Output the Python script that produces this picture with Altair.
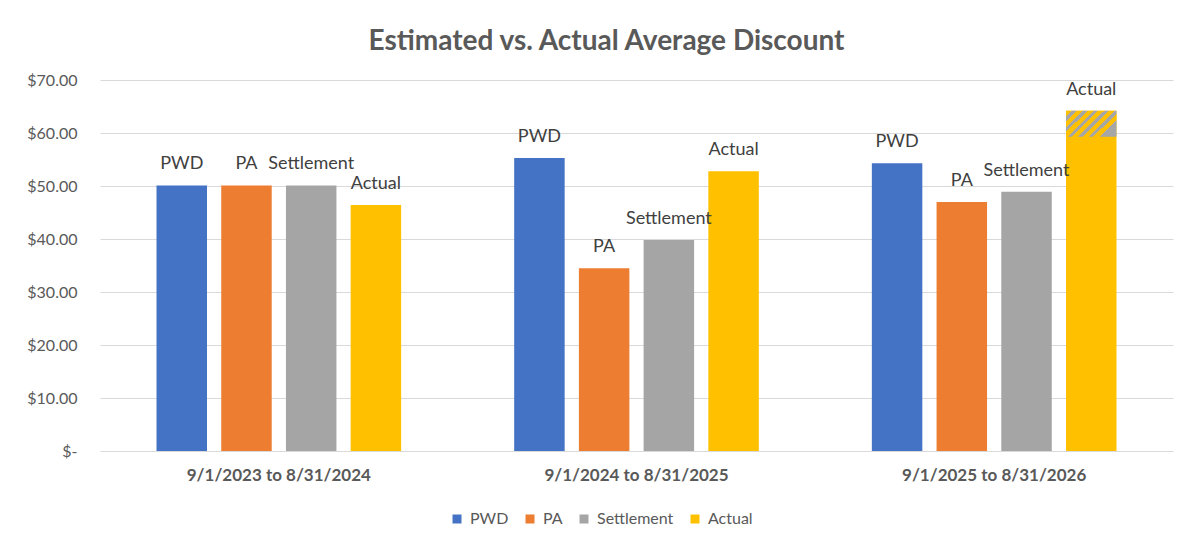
import altair as alt
import pandas as pd

groups = ["9/1/2023 to 8/31/2024", "9/1/2024 to 8/31/2025", "9/1/2025 to 8/31/2026"]
series = ["PWD", "PA", "Settlement", "Actual"]
colors = ["#4472C4", "#ED7D31", "#A5A5A5", "#FFC000"]

pwd = [50.1, 55.3, 54.3]
pa = [50.1, 34.5, 47.0]
settlement = [50.1, 39.8, 48.9]
actual = [46.4, 52.8, 64.2]

# hatched (estimated) top portion of the last Actual bar
hatch_group = [groups[2]]
hatch_series = ["Actual"]
hatch_start = [59.3]
hatch_end = [64.2]

rows = []
for name, vals in zip(series, [pwd, pa, settlement, actual]):
    for g, v in zip(groups, vals):
        rows.append({"group": g, "series": name, "value": v})
df = pd.DataFrame(rows)

df_h = pd.DataFrame({"group": hatch_group, "series": hatch_series,
                     "start": hatch_start, "end": hatch_end})

FONT = "Lato"
TXT = "#595959"

x_enc = alt.X("group:N", sort=groups,
              scale=alt.Scale(paddingInner=0.316, paddingOuter=0.158),
              axis=alt.Axis(title=None, labelAngle=0, domain=False, ticks=False, grid=False,
                            labelFontWeight="bold", labelFontSize=17, labelColor=TXT,
                            labelPadding=16, labelFont=FONT, labelLimit=0))
xo_enc = alt.XOffset("series:N", sort=series,
                     scale=alt.Scale(domain=series, paddingInner=0.22, paddingOuter=0))
y_scale = alt.Scale(domain=[0, 70], nice=False)

bars = alt.Chart(df).mark_bar().encode(
    x=x_enc,
    xOffset=xo_enc,
    y=alt.Y("value:Q", scale=y_scale,
            axis=alt.Axis(title=None, values=[0, 10, 20, 30, 40, 50, 60, 70],
                          domain=False, ticks=False, gridColor="#D9D9D9", gridWidth=1,
                          labelFontSize=16, labelColor=TXT, labelPadding=23, labelFont=FONT,
                          labelExpr="datum.value == 0 ? '$-\u00a0\u00a0\u00a0\u00a0\u00a0\u00a0\u00a0' : '$' + format(datum.value, '.2f')")),
    color=alt.Color("series:N", sort=series,
                    scale=alt.Scale(domain=series, range=colors),
                    legend=alt.Legend(title=None, orient="none", direction="horizontal",
                                      legendX=349, legendY=431, symbolType="square",
                                      symbolSize=81, symbolStrokeWidth=0,
                                      labelFontSize=16, labelColor=TXT, labelFont=FONT,
                                      columnPadding=13, symbolOffset=0, labelOffset=5)),
)

periods = 6
stops = []
for i in range(periods):
    a = i / periods
    b = (i + 0.58) / periods
    c = (i + 1) / periods
    stops += [alt.GradientStop(color="#FFC000", offset=a),
              alt.GradientStop(color="#FFC000", offset=b),
              alt.GradientStop(color="#A6A6A6", offset=b),
              alt.GradientStop(color="#A6A6A6", offset=c)]

hatch = alt.Chart(df_h).mark_bar(
    fill=alt.Gradient(gradient="linear", stops=stops, x1=0, y1=0, x2=1, y2=0.52)
).encode(
    x=alt.X("group:N", sort=groups),
    xOffset=alt.XOffset("series:N", sort=series),
    y=alt.Y("start:Q", scale=y_scale),
    y2="end:Q",
)

labels = alt.Chart(df).mark_text(
    dy=-21, fontSize=18, color="#404040", font=FONT, baseline="middle"
).encode(
    x=alt.X("group:N", sort=groups),
    xOffset=alt.XOffset("series:N", sort=series),
    y=alt.Y("value:Q", scale=y_scale),
    text="series:N",
)

chart = alt.layer(bars, hatch, labels).properties(
    width=1073, height=371,
    background="white",
    autosize=alt.AutoSizeParams(type="none"),
    padding={"left": 92, "top": 72, "right": 13, "bottom": 91},
    title=alt.TitleParams("Estimated vs. Actual Average Discount", fontSize=28,
                          fontWeight="bold", color=TXT, font=FONT, anchor="middle",
                          dx=-30, offset=16),
).configure_view(strokeWidth=0, stroke="transparent").configure_axis(domain=False)

chart.save("out.html", embed_options={"renderer": "svg", "actions": False})
